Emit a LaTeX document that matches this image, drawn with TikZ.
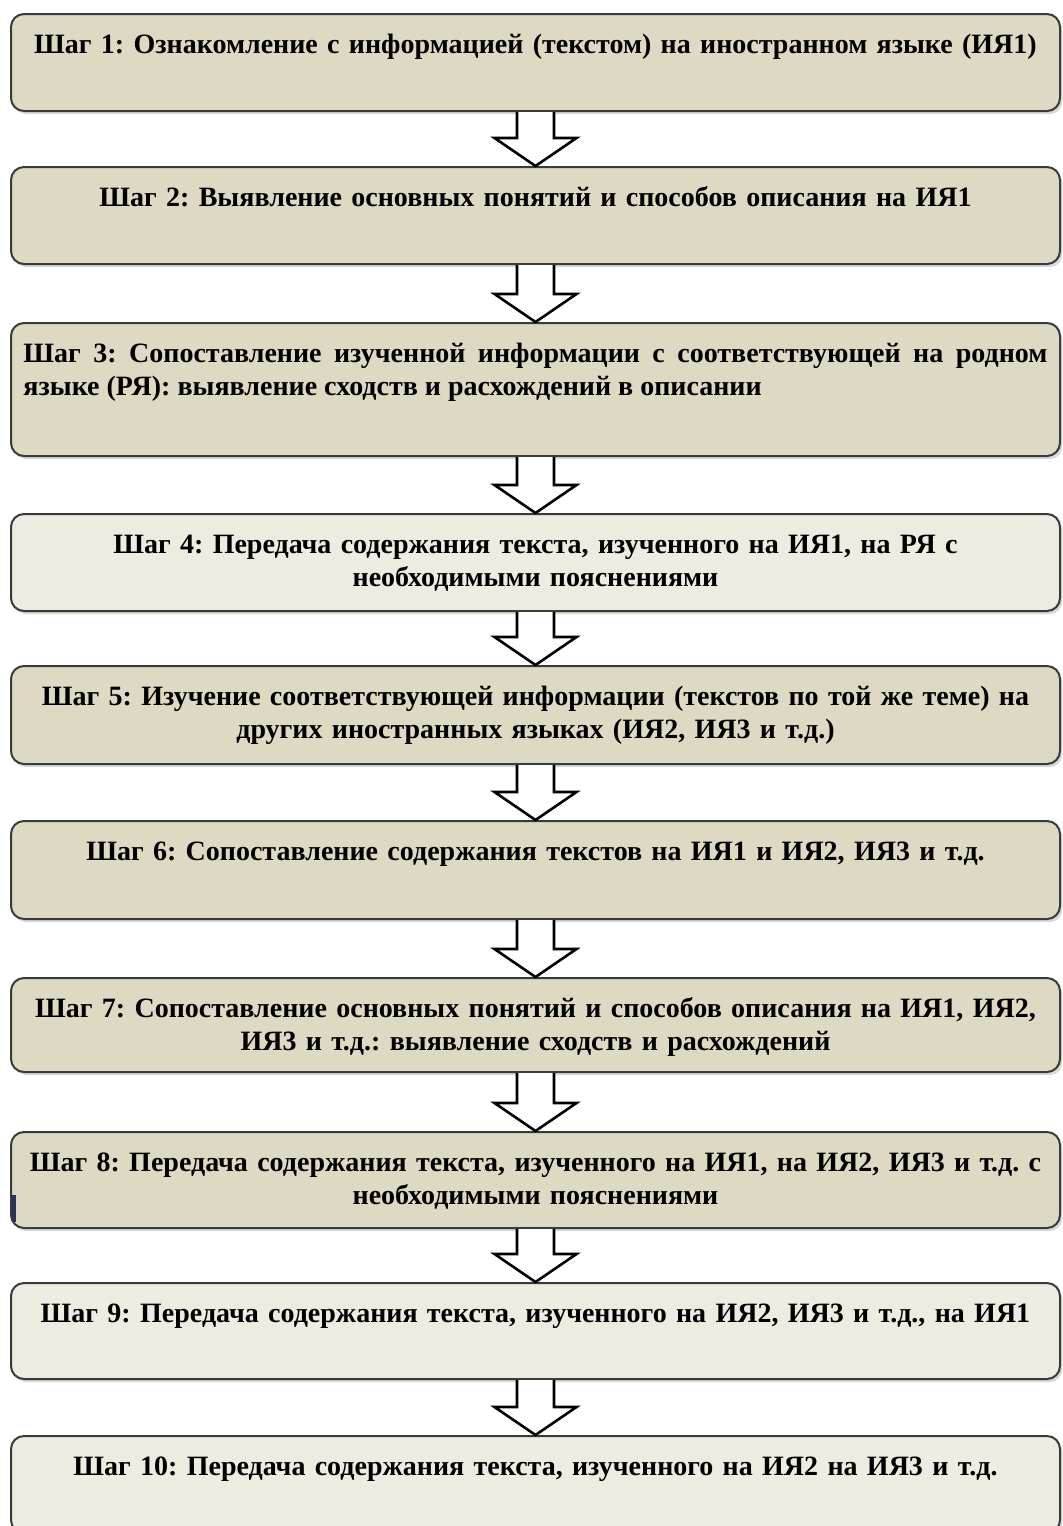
\documentclass[tikz,border=0pt]{standalone}
\usepackage{fontspec}
\setmainfont{Liberation Serif}
\usetikzlibrary{positioning}
\usetikzlibrary{calc}
\usetikzlibrary{shadows}

\hyphenpenalty=10000
\exhyphenpenalty=10000
\frenchspacing

\definecolor{tandark}{HTML}{DDD9C3}
\definecolor{tanlight}{HTML}{EEECE1}
\definecolor{boxedge}{HTML}{3A3A3A}
\definecolor{scanblue}{HTML}{2B3356}

\tikzset{
  stepbox/.style={draw=boxedge, line width=1pt, rounded corners=6.5pt,
    minimum width=524.5pt, anchor=north, inner sep=0pt,
    drop shadow={shadow xshift=1.2pt, shadow yshift=-1.6pt, opacity=0.3}},
  steptext/.style={anchor=north, inner sep=0pt, text width=512pt, align=center,
    font=\fontsize{14pt}{16.5pt}\selectfont\bfseries},
  steparrowline/.style={draw=black, line width=1.3pt, fill=white, line join=miter},
  scanmark/.style={draw=scanblue, line width=2pt},
}

\newcommand{\topstrut}{\rule{0pt}{12.5pt}}
% hollow block arrow from the bottom of one box to the top of the next
\newcommand{\steparrow}[2]{%
  \draw[steparrowline] let \p1=(#1.south), \p2=(#2.north) in
    (\x1-9.25pt,\y1) -- (\x1-9.25pt,\y2+14pt) -- (\x1-20.5pt,\y2+14pt)
    -- (\x1,\y2) -- (\x1+20.5pt,\y2+14pt) -- (\x1+9.25pt,\y2+14pt)
    -- (\x1+9.25pt,\y1);}

\begin{document}
\begin{tikzpicture}
\useasboundingbox (0pt,0pt) rectangle (531pt,-763pt);

% boxes
\node[stepbox, fill=tandark, minimum height=48.5pt] (b1) at (267.75pt,-6.5pt) {};
\node[stepbox, fill=tandark, minimum height=48.5pt] (b2) at (267.75pt,-83pt) {};
\node[stepbox, fill=tandark, minimum height=66.5pt] (b3) at (267.75pt,-161pt) {};
\node[stepbox, fill=tanlight, minimum height=48.5pt] (b4) at (267.75pt,-256.5pt) {};
\node[stepbox, fill=tandark, minimum height=49pt] (b5) at (267.75pt,-332.5pt) {};
\node[stepbox, fill=tandark, minimum height=49pt] (b6) at (267.75pt,-410pt) {};
\node[stepbox, fill=tandark, minimum height=47pt] (b7) at (267.75pt,-488.5pt) {};
\node[stepbox, fill=tandark, minimum height=48pt] (b8) at (267.75pt,-565.5pt) {};
\node[stepbox, fill=tanlight, minimum height=48pt] (b9) at (267.75pt,-641pt) {};
\node[stepbox, fill=tanlight, minimum height=48.5pt] (b10) at (267.75pt,-717.5pt) {};

% texts
\node[steptext, below=7.5pt of b1.north] (t1) {\topstrut Шаг 1: Ознакомление с информацией (текстом) на иностранном языке (ИЯ1)};
\node[steptext, below=7.5pt of b2.north] (t2) {\topstrut Шаг 2: Выявление основных понятий и способов описания на ИЯ1};
\node[steptext, align=justify, text width=512pt, below=7.5pt of b3.north] (t3) {\topstrut Шаг 3: Сопоставление изученной информации с соответствующей на родном\linebreak
  языке (РЯ): выявление сходств и расхождений в описании};
\node[steptext, below=7.5pt of b4.north] (t4) {\topstrut Шаг 4: Передача содержания текста, изученного на ИЯ1, на РЯ с\\
  необходимыми пояснениями};
\node[steptext, below=7.5pt of b5.north] (t5) {\topstrut Шаг 5: Изучение соответствующей информации (текстов по той же теме) на\\
  других иностранных языках (ИЯ2, ИЯ3 и т.д.)};
\node[steptext, below=7.5pt of b6.north] (t6) {\topstrut Шаг 6: Сопоставление содержания текстов на ИЯ1 и ИЯ2, ИЯ3 и т.д.};
\node[steptext, below=7.5pt of b7.north] (t7) {\topstrut Шаг 7: Сопоставление основных понятий и способов описания на ИЯ1, ИЯ2,\\
  ИЯ3 и т.д.: выявление сходств и расхождений};
\node[steptext, below=7.5pt of b8.north] (t8) {\topstrut Шаг 8: Передача содержания текста, изученного на ИЯ1, на ИЯ2, ИЯ3 и т.д. с\\
  необходимыми пояснениями};
\node[steptext, below=7.5pt of b9.north] (t9) {\topstrut Шаг 9: Передача содержания текста, изученного на ИЯ2, ИЯ3 и т.д., на ИЯ1};
\node[steptext, below=7.5pt of b10.north] (t10) {\topstrut Шаг 10: Передача содержания текста, изученного на ИЯ2 на ИЯ3 и т.д.};

% arrows
\steparrow{b1}{b2}
\steparrow{b2}{b3}
\steparrow{b3}{b4}
\steparrow{b4}{b5}
\steparrow{b5}{b6}
\steparrow{b6}{b7}
\steparrow{b7}{b8}
\steparrow{b8}{b9}
\steparrow{b9}{b10}

% dark mark on the left edge of step 8
\draw[scanmark] ([xshift=1.8pt,yshift=3.5pt]b8.south west) -- ([xshift=1.8pt,yshift=17pt]b8.south west);
\end{tikzpicture}
\end{document}
